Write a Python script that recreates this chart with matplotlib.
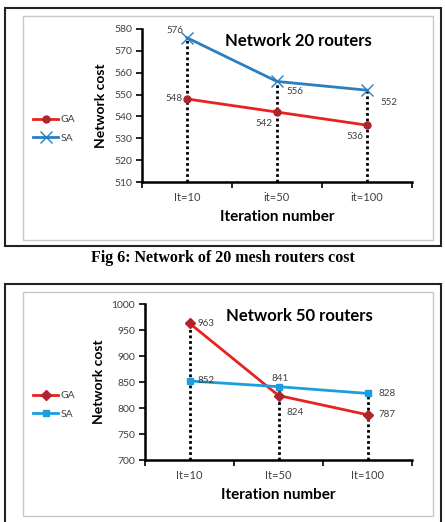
import numpy as np
import matplotlib as mpl
mpl.use("Agg")
import matplotlib.pyplot as plt
from matplotlib.patches import Rectangle

categories_20 = ["It=10", "it=50", "it=100"]
ga_20 = [548, 542, 536]
sa_20 = [576, 556, 552]

categories_50 = ["It=10", "It=50", "It=100"]
ga_50 = [963, 824, 787]
sa_50 = [852, 841, 828]

W, H = 445, 522
fig = plt.figure(figsize=(W / 100, H / 100), dpi=100)
plt.rcParams["font.family"] = ["Lato", "DejaVu Sans"]

def px_axes(left, top, right, bottom):
    return fig.add_axes([left / W, 1 - bottom / H, (right - left) / W, (bottom - top) / H])

def box(left, top, right, bottom, lw, color):
    fig.patches.append(Rectangle((left / W, 1 - bottom / H), (right - left) / W, (bottom - top) / H,
                                 transform=fig.transFigure, fill=False, lw=lw, ec=color))

def draw_chart(ax, cats, ga, sa, ylim, ystep, title, sa_color, ga_marker, sa_marker,
               ga_offsets, sa_offsets, legend_y):
    x = np.arange(len(cats))
    for i in x:
        ax.plot([i, i], [ylim[0], max(ga[i], sa[i])], color="black", ls=(0, (1, 1)), lw=2, zorder=1)
    l1, = ax.plot(x, ga, color="#e8221e", lw=2, marker=ga_marker, ms=5, mfc="#b0242c", mec="#b0242c",
                  label="GA", zorder=3)
    l2, = ax.plot(x, sa, color=sa_color, lw=2, marker=sa_marker, ms=8 if sa_marker == "x" else 5,
                  mfc=sa_color, mec=sa_color, mew=1, label="SA", zorder=3)
    for vals, offs in ((ga, ga_offsets), (sa, sa_offsets)):
        for i, v in enumerate(vals):
            dx, dy, ha = offs[i]
            ax.annotate(str(v), (i, v), xytext=(dx, dy), textcoords="offset points", ha=ha,
                        va="center", fontsize=7, color="#404040")
    ax.set_xlim(-0.5, len(cats) - 0.5)
    ax.set_ylim(*ylim)
    ax.set_yticks(np.arange(ylim[0], ylim[1] + 1, ystep))
    ax.set_xticks(x)
    ax.set_xticklabels(cats)
    ax.set_xticks(np.arange(-0.5, len(cats), 1), minor=True)
    ax.tick_params(axis="x", which="major", length=0, pad=7, labelsize=8, labelcolor="#404040")
    ax.tick_params(axis="x", which="minor", length=4, width=1.2, direction="out")
    ax.tick_params(axis="y", length=4, width=1.2, labelsize=7.5, labelcolor="#404040", pad=3)
    for s in ("top", "right"):
        ax.spines[s].set_visible(False)
    for s in ("left", "bottom"):
        ax.spines[s].set_linewidth(1.8)
    ax.set_xlabel("Iteration number", fontsize=11, fontweight="bold", labelpad=5)
    ax.set_ylabel("Network cost", fontsize=10, fontweight="bold", labelpad=5)
    ax.text(0.58, 0.92, title, transform=ax.transAxes, ha="center", va="center",
            fontsize=12, fontweight="bold")
    ax.legend(handles=[l1, l2], loc="center left", bbox_to_anchor=(28 / W, 1 - legend_y / H),
              bbox_transform=fig.transFigure, frameon=False, fontsize=7.5, handlelength=2.4,
              handletextpad=0.2, labelspacing=0.9, borderpad=0, labelcolor="#404040")

# chart 1
box(5, 8, 441, 246, 1.5, "#222222")
box(23, 16, 433, 240, 1, "#c8c8c8")
ax1 = px_axes(142, 29, 412, 182)
draw_chart(ax1, categories_20, ga_20, sa_20, (510, 580), 10, "Network 20 routers", "#2a7fc1",
           "o", "x",
           ga_offsets=[(-3, 0, "right"), (-3, -8, "right"), (-3, -8, "right")],
           sa_offsets=[(-3, 5, "right"), (7, -7, "left"), (10, -9, "left")],
           legend_y=129)
fig.text(0.5, 1 - 258 / H, "Fig 6: Network of 20 mesh routers cost", ha="center", va="center",
         fontsize=11.5, fontweight="bold", family="Liberation Serif")

# chart 2
box(5, 284, 441, 540, 1.5, "#222222")
box(23, 292, 433, 516, 1, "#c8c8c8")
ax2 = px_axes(145, 304, 412, 460)
draw_chart(ax2, categories_50, ga_50, sa_50, (700, 1000), 50, "Network 50 routers", "#1a9ee0",
           "D", "s",
           ga_offsets=[(6, 0, "left"), (6, -12, "left"), (8, 0, "left")],
           sa_offsets=[(6, 0, "left"), (-5, 6, "left"), (8, 0, "left")],
           legend_y=405)

fig.savefig("out.png", dpi=100)
